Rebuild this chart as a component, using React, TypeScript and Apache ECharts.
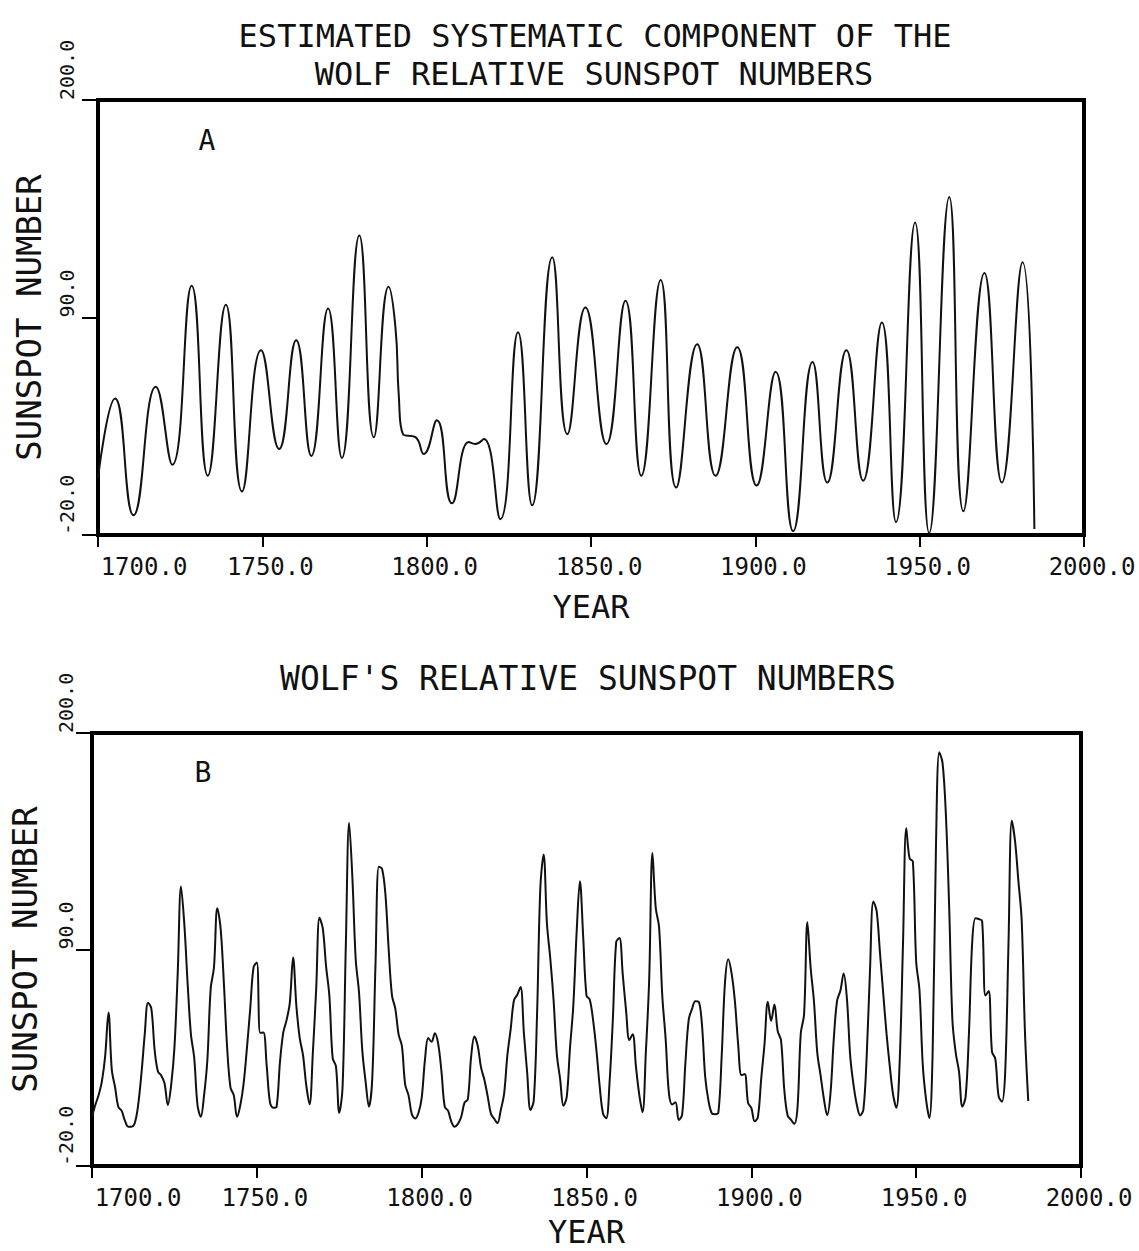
import React, { useEffect, useRef } from "react";
import * as echarts from "echarts";

// Axis ticks shared by both panels
const X_TICKS = [1700, 1750, 1800, 1850, 1900, 1950, 2000];
const Y_TICKS = [-20, 90, 200];

// Panel A: estimated systematic component (turning points and shoulders of the curve)
const systematicYears = [
  1700.0, 1705.2, 1710.8, 1717.6, 1722.6, 1728.5, 1733.4, 1738.9, 1743.8, 1749.6,
  1755.1, 1760.3, 1764.9, 1770.0, 1774.2, 1779.5, 1783.9, 1788.4, 1790.5, 1791.5,
  1792.8, 1796.6, 1799.1, 1803.1, 1807.7, 1812.8, 1814.8, 1817.4, 1822.4, 1827.8,
  1832.1, 1838.2, 1842.8, 1848.3, 1854.7, 1860.5, 1865.3, 1871.2, 1875.9, 1882.3,
  1887.9, 1894.5, 1900.4, 1906.2, 1911.5, 1917.4, 1921.9, 1927.7, 1932.8, 1938.5,
  1942.8, 1948.6, 1952.9, 1959.0, 1963.3, 1969.7, 1975.0, 1981.3, 1984.9,
];
const systematicValues = [
  9, 49, -10, 55, 15.5, 106, 10, 96.5, 2, 73.5,
  23.5, 78.5, 20, 94.5, 19, 131.5, 29.5, 105.5, 85, 51,
  31, 29.5, 21, 38, -4, 27, 26, 28.5, -12, 82.5,
  -5, 120.5, 31, 95, 26, 98.5, 10, 109, 4, 76.5,
  10, 75, 5, 62.5, -18, 67.5, 6.5, 73.5, 7.5, 87.5,
  -13.5, 138, -19, 151, -8, 112.5, 6.5, 118, -17,
];

// Panel B: yearly Wolf relative sunspot numbers, 1700 onward
const wolfFirstYear = 1700;
const wolfValues = [
  5, 11, 16, 23, 36, 58, 29, 20, 10, 8,
  3, 0, 0, 2, 11, 27, 47, 63, 60, 39,
  28, 26, 22, 11, 21, 40, 78, 122, 103, 73,
  47, 35, 11, 5, 16, 34, 70, 81, 111, 101,
  73, 40, 20, 16, 5, 11, 22, 40, 60, 80.9,
  83.4, 47.7, 47.8, 30.7, 12.2, 9.6, 10.2, 32.4, 47.6, 54.0,
  62.9, 85.9, 61.2, 45.1, 36.4, 20.9, 11.4, 37.8, 69.8, 106.1,
  100.8, 81.6, 66.5, 34.8, 30.6, 7.0, 19.8, 92.5, 154.4, 125.9,
  84.8, 68.1, 38.5, 22.8, 10.2, 24.1, 82.9, 132.0, 130.9, 118.1,
  89.9, 66.6, 60.0, 46.9, 41.0, 21.3, 16.0, 6.4, 4.1, 6.8,
  14.5, 34.0, 45.0, 43.1, 47.5, 42.2, 28.1, 10.1, 8.1, 2.5,
  0.0, 1.4, 5.0, 12.2, 13.9, 35.4, 45.8, 41.1, 30.1, 23.9,
  15.6, 6.6, 4.0, 1.8, 8.5, 16.6, 36.3, 49.6, 64.2, 67.0,
  70.9, 47.8, 27.5, 8.5, 13.2, 56.9, 121.5, 138.3, 103.2, 85.7,
  64.6, 36.7, 24.2, 10.7, 15.0, 40.1, 61.5, 98.5, 124.7, 96.3,
  66.6, 64.5, 54.1, 39.0, 20.6, 6.7, 4.3, 22.7, 54.8, 93.8,
  95.8, 77.2, 59.1, 44.0, 47.0, 30.5, 16.3, 7.3, 37.6, 74.0,
  139.0, 111.2, 101.6, 66.2, 44.7, 17.0, 11.3, 12.4, 3.4, 6.0,
  32.3, 54.3, 59.7, 63.7, 63.5, 52.2, 25.4, 13.1, 6.8, 6.3,
  7.1, 35.6, 73.0, 85.1, 78.0, 64.0, 41.8, 26.2, 26.7, 12.1,
  9.5, 2.7, 5.0, 24.4, 42.0, 63.5, 53.8, 62.0, 48.5, 43.9,
  18.6, 5.7, 3.6, 1.4, 9.6, 47.4, 57.1, 103.9, 80.6, 63.6,
  37.6, 26.1, 14.2, 5.8, 16.7, 44.3, 63.9, 69.0, 77.8, 64.9,
  35.7, 21.2, 11.1, 5.7, 8.7, 36.1, 79.7, 114.4, 109.6, 88.8,
  67.8, 47.5, 30.6, 16.3, 9.6, 33.2, 92.6, 151.6, 136.3, 134.7,
  83.9, 69.4, 31.5, 13.9, 4.4, 38.0, 141.7, 190.2, 184.8, 159.0,
  112.3, 53.9, 37.5, 27.9, 10.2, 15.1, 47.0, 93.8, 105.9, 105.5,
  104.5, 66.6, 68.9, 38.0, 34.5, 15.5, 12.6, 27.5, 92.5, 155.4,
  145, 125, 105, 48, 13,
];

const TITLE_A1 = "ESTIMATED SYSTEMATIC COMPONENT OF THE";
const TITLE_A2 = "WOLF RELATIVE SUNSPOT NUMBERS";
const TITLE_B = "WOLF'S RELATIVE SUNSPOT NUMBERS";

const FONT = '"DejaVu Sans Mono", "Liberation Mono", monospace';
const INK = "#111";

function xLabel(v: number): string {
  const s = v.toFixed(1);
  return v === X_TICKS[0] ? `{first|${s}}` : `{rest|${s}}`;
}

function text(str: string, x: number, y: number, size: number) {
  return {
    type: "text",
    x,
    y,
    style: {
      text: str,
      fontFamily: FONT,
      fontSize: size,
      fill: INK,
      align: "center",
      verticalAlign: "middle",
      textAlign: "center",
      textVerticalAlign: "middle",
    },
  };
}

function xAxisFor(gridIndex: number, nameGap: number) {
  const labelFont = { fontFamily: FONT, fontSize: 24, color: INK };
  return {
    type: "value",
    gridIndex,
    min: X_TICKS[0],
    max: X_TICKS[X_TICKS.length - 1],
    interval: 50,
    name: "YEAR",
    nameLocation: "middle",
    nameGap,
    nameTextStyle: { fontFamily: FONT, fontSize: 32, color: INK },
    axisLine: { show: true, onZero: false, lineStyle: { color: "#000", width: 4 } },
    axisTick: { show: true, inside: false, length: 12, lineStyle: { color: "#000", width: 2 } },
    axisLabel: {
      margin: 20,
      formatter: xLabel,
      ...labelFont,
      rich: {
        first: { ...labelFont, padding: [0, 0, 0, 92] },
        rest: { ...labelFont, padding: [0, 0, 0, 16] },
      },
    },
    splitLine: { show: false },
  };
}

function yAxisFor(gridIndex: number, nameGap: number, labelMargin: number) {
  return {
    type: "value",
    gridIndex,
    min: Y_TICKS[0],
    max: Y_TICKS[Y_TICKS.length - 1],
    name: "SUNSPOT NUMBER",
    nameLocation: "middle",
    nameGap,
    nameRotate: 90,
    nameTextStyle: { fontFamily: FONT, fontSize: 34, color: INK },
    axisLine: { show: true, onZero: false, lineStyle: { color: "#000", width: 4 } },
    axisTick: {
      show: true,
      inside: false,
      length: 16,
      customValues: Y_TICKS,
      lineStyle: { color: "#000", width: 2 },
    },
    axisLabel: {
      customValues: Y_TICKS,
      rotate: 90,
      align: "left",
      verticalAlign: "middle",
      margin: labelMargin,
      formatter: (v: number) => v.toFixed(1),
      fontFamily: FONT,
      fontSize: 20,
      color: INK,
    },
    splitLine: { show: false },
  };
}

export default function App() {
  const ref = useRef<HTMLDivElement>(null);

  useEffect(() => {
    if (!ref.current) return;
    const chart = echarts.init(ref.current, undefined, { renderer: "svg" });

    const systematic = systematicYears.map((y, i) => [y, systematicValues[i]]);
    const wolf = wolfValues.map((v, i) => [wolfFirstYear + i, v]);

    chart.setOption({
      animation: false,
      backgroundColor: "#ffffff",
      grid: [
        { left: 98, top: 100, width: 986, height: 435, show: true, borderColor: "#000", borderWidth: 4 },
        { left: 92, top: 733, width: 989, height: 433, show: true, borderColor: "#000", borderWidth: 4 },
      ],
      xAxis: [xAxisFor(0, 56), xAxisFor(1, 50)],
      yAxis: [yAxisFor(0, 52, 31), yAxisFor(1, 50, 26)],
      graphic: [
        text(TITLE_A1, 595, 36, 32),
        text(TITLE_A2, 594, 74, 32),
        text(TITLE_B, 588, 678, 33),
        text("A", 207, 140, 28),
        text("B", 203, 772, 28),
      ],
      series: [
        {
          type: "line",
          xAxisIndex: 0,
          yAxisIndex: 0,
          data: systematic,
          smooth: 0.5,
          showSymbol: false,
          lineStyle: { color: INK, width: 2 },
        },
        {
          type: "line",
          xAxisIndex: 1,
          yAxisIndex: 1,
          data: wolf,
          smooth: 0.35,
          showSymbol: false,
          lineStyle: { color: INK, width: 2 },
        },
      ],
    });

    return () => chart.dispose();
  }, []);

  return (
    <div
      ref={ref}
      style={{ position: "absolute", left: 0, top: 0, width: 1139, height: 1251, background: "#fff" }}
    />
  );
}
